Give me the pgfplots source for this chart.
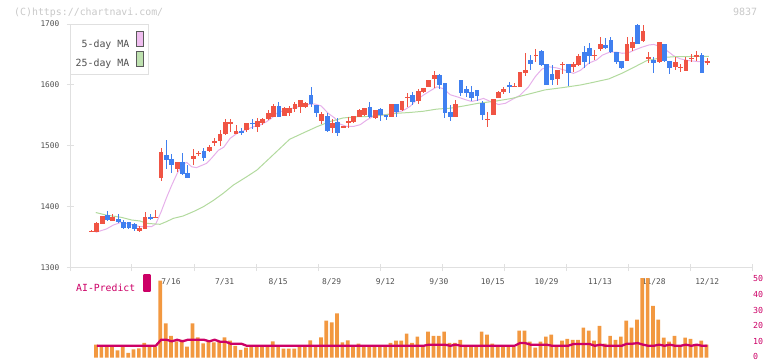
\documentclass[border=0pt]{standalone}
\usepackage{pgfplots}
\pgfplotsset{compat=1.18}
\usepackage{pgfplotstable}
\usepackage{fontspec}
\setmonofont{DejaVu Sans Mono}
\definecolor{cRed}{RGB}{240,84,68}
\definecolor{cBlue}{RGB}{64,128,240}
\definecolor{maPink}{RGB}{230,176,234}
\definecolor{maPinkFill}{RGB}{240,190,240}
\definecolor{maGreen}{RGB}{178,218,158}
\definecolor{maGreenFill}{RGB}{190,225,175}
\definecolor{volOrange}{RGB}{242,152,64}
\definecolor{aiMag}{RGB}{204,0,102}
\definecolor{axisGray}{RGB}{224,224,224}
\definecolor{textGray}{RGB}{80,80,80}
\definecolor{wmGray}{RGB}{200,200,200}
\definecolor{swBorder}{RGB}{90,90,90}

\pgfplotstableread{
i o h l c
0 1360 1361.5 1359.5 1361
1 1359.5 1374.8 1359 1373.2
2 1372.7 1386 1372 1385.2
3 1387.4 1393.4 1377.6 1378.7
4 1377.6 1388.5 1377 1383
5 1380.3 1388.5 1374.3 1376
6 1374.9 1378.7 1364.5 1366.1
7 1374.9 1376 1364.5 1366.1
8 1372.1 1373.2 1361.2 1363.9
9 1361.2 1368.8 1359.5 1365.6
10 1364.5 1391.8 1364 1383
11 1383 1388.5 1378.7 1380.8
12 1382.5 1395.1 1382.5 1383.2
13 1448.1 1496.1 1443.2 1490.1
14 1485.2 1509.8 1461.7 1477
15 1478.7 1486.9 1456.3 1469.4
16 1462.8 1474 1458 1473.7
17 1473.7 1488.5 1453 1454.1
18 1455.7 1468.8 1448 1448.1
19 1478.7 1495.1 1468.8 1483.6
20 1488 1492.3 1484.1 1488.6
21 1491.8 1496.1 1475.4 1480.3
22 1491.8 1502.2 1490.7 1498.3
23 1505.5 1513.7 1500.6 1508.2
24 1508.8 1526.2 1500.6 1519.7
25 1519.1 1543.7 1518 1538.8
26 1538 1543.7 1523.5 1538.8
27 1519.7 1534.4 1519.7 1524.6
28 1524 1529 1518 1523.2
29 1526.2 1537.7 1523.5 1537.7
30 1537.7 1543.7 1527.3 1536.6
31 1531.7 1545.4 1523.5 1541
32 1538.3 1545.4 1534.4 1544.3
33 1543.7 1559 1542.6 1554.6
34 1548.1 1568.9 1547 1565.6
35 1565.6 1572 1547 1548.1
36 1549.2 1564.5 1549.2 1561.8
37 1554.6 1565.6 1549.2 1561.8
38 1560.7 1572.7 1556.3 1568.9
39 1564.5 1575.4 1553.6 1575.4
40 1564.5 1572 1563 1571.1
41 1583.6 1597.3 1564.5 1569.5
42 1567.2 1567.2 1547 1553.6
43 1541.5 1556.3 1536.5 1552.5
44 1549.2 1553.6 1522.4 1525.1
45 1529 1545 1521 1538.3
46 1539.9 1545.4 1517 1520.8
47 1530 1532.6 1529 1532.6
48 1537.2 1547 1530 1541
49 1539.9 1549.2 1537.2 1549.2
50 1548.1 1560 1547 1559
51 1550.8 1563 1550 1562.9
52 1564.5 1571.6 1545.4 1547
53 1545.4 1559 1544.3 1559
54 1560.7 1562.9 1541.6 1550.8
55 1550.8 1550.8 1542.6 1547
56 1548.1 1569 1548 1568.9
57 1568.9 1568.9 1547 1555.2
58 1559 1574 1558 1573.8
59 1579.5 1587.5 1564.5 1580.3
60 1583.6 1589.1 1567.2 1572.7
61 1573.8 1592.9 1568.3 1590.2
62 1589.1 1595.7 1586.4 1595.7
63 1597.3 1608.2 1597 1608.2
64 1609.3 1623 1594.6 1616.4
65 1616.4 1618 1592.9 1600
66 1602.8 1602.8 1546.5 1553.6
67 1556.3 1567.2 1541 1548.1
68 1548.1 1575.4 1548 1568.9
69 1608.2 1608.2 1582.6 1587.5
70 1593.5 1598.4 1581 1587
71 1588 1598.4 1574.4 1578.2
72 1591.8 1591.8 1574.4 1582.3
73 1571.1 1574.4 1542.6 1550.9
74 1543.4 1556.3 1531.7 1544.2
75 1550.9 1577.1 1550.5 1577.1
76 1578.6 1590.7 1578.5 1589.1
77 1589.1 1596.5 1585 1593.5
78 1600 1605 1587.5 1597.6
79 1597.3 1603.9 1596 1598.4
80 1597.3 1621.5 1597 1620.8
81 1620.3 1652.5 1615.5 1624.6
82 1641 1649.2 1625 1634.5
83 1648.3 1658.7 1637.7 1649.2
84 1656 1657.4 1631.7 1632.8
85 1634.5 1634.5 1600 1600
86 1618.1 1633.5 1600 1608.2
87 1609.9 1624.6 1600 1624.6
88 1633.4 1638.3 1617.5 1633.9
89 1634.5 1634.5 1598.4 1619.2
90 1629 1638.3 1622 1634.5
91 1632.8 1650.3 1631.7 1647.5
92 1654.6 1664 1627.8 1638.3
93 1661.2 1668.8 1633.9 1648.1
94 1648.5 1657.4 1641 1649.2
95 1659.5 1678.7 1655.7 1667.2
96 1665.6 1676.5 1659.6 1661.2
97 1673.8 1678.7 1652.5 1653.6
98 1654.6 1654.6 1634.5 1638.3
99 1639.3 1639.3 1626.2 1627.3
100 1639.9 1678.7 1639 1667.2
101 1661.2 1678.7 1655.7 1670.5
102 1698.4 1700 1666.7 1667.8
103 1672.7 1698.4 1671 1688.5
104 1644.3 1654.6 1635.5 1644.9
105 1641 1646.5 1620.2 1636.6
106 1638.3 1670.5 1636.6 1670.5
107 1667.2 1667.2 1638.3 1639.9
108 1639.3 1639.3 1618.6 1628.4
109 1629 1646.5 1624.6 1637.7
110 1628.4 1634.5 1621.9 1629
111 1623.5 1646.5 1623.5 1641
112 1643.3 1650.8 1638.3 1643.8
113 1646.5 1655.7 1640 1649.2
114 1649.2 1651.9 1620.2 1620.2
115 1638.2 1643.7 1632.8 1638.6
}\candles

\pgfplotstableread{
i v
1 8.2
2 6.7
3 6.7
4 6.7
5 4.6
6 6.7
7 3.1
8 5.2
9 5.9
10 9.4
11 6.7
12 6.7
13 48.6
14 21.6
15 13.8
16 10.3
17 11.3
18 6.9
19 21.6
20 12.8
21 9.0
22 10.7
23 9.6
24 10.1
25 12.8
26 10.7
27 7.5
28 5.0
29 6.3
30 6.7
31 6.7
32 6.7
33 6.7
34 10.3
35 6.7
36 5.7
37 5.7
38 5.7
39 6.7
40 6.7
41 10.9
42 6.7
43 12.8
44 23.3
45 22.2
46 27.9
47 9.6
48 10.9
49 6.7
50 8.8
51 6.7
52 6.7
53 6.7
54 6.7
55 7.5
56 9.4
57 10.7
58 10.7
59 15.1
60 9.4
61 13.2
62 7.5
63 16.4
64 13.8
65 13.8
66 16.4
67 9.4
68 9.4
69 11.3
70 6.7
71 6.7
72 6.7
73 16.4
74 14.5
75 8.8
76 6.7
77 6.7
78 6.7
79 6.7
80 17.0
81 17.0
82 10.1
83 6.3
84 10.1
85 13.2
86 14.5
87 6.7
88 10.7
89 11.9
90 11.3
91 11.3
92 18.9
93 17.0
94 10.7
95 20.1
96 8.8
97 13.8
98 11.3
99 13.2
100 23.3
101 18.9
102 23.9
103 60
104 60
105 32.7
106 23.9
107 12.6
108 10.1
109 13.8
110 7.5
111 12.6
112 11.9
113 7.5
114 10.7
115 8.2
}\vol

\begin{document}
\begin{tikzpicture}
\useasboundingbox (0,0) rectangle (772pt,361pt);
\node[anchor=west, text=wmGray, font=\fontsize{9.9}{10}\ttfamily, inner sep=0pt] at (14pt,348.5pt) {(C)https://chartnavi.com/};
\node[anchor=east, text=wmGray, font=\fontsize{10}{10}\ttfamily, inner sep=0pt] at (757.3pt,349pt) {9837};

\begin{axis}[
  at={(70pt,93pt)}, anchor=south west, scale only axis,
  width=682pt, height=244pt,
  xmin=-4.01, xmax=123.34, ymin=1300, ymax=1700,
  axis x line*=bottom, axis y line*=left,
  axis line style={draw=axisGray, line width=1pt, -},
  tick style={draw=axisGray, line width=1pt},
  tick align=center, major tick length=7pt,
  xtick={-4.01,7.567,19.145,30.722,42.299,53.877,65.454,77.031,88.608,100.186,111.763,123.34},
  xticklabels={},
  ytick={1300,1400,1500,1600,1700},
  yticklabels={1300,1400,1500,1600,1700},
  yticklabel style={font=\fontsize{7.8}{8}\ttfamily, text=textGray, anchor=east, inner sep=0pt, xshift=-7pt},
  extra x ticks={14.85,24.85,34.85,44.85,54.9,64.85,74.95,84.95,94.95,105,115},
  extra x tick labels={7/16,7/31,8/15,8/29,9/12,9/30,10/15,10/29,11/13,11/28,12/12},
  extra x tick style={major tick length=0pt, tick style={draw=none},
     xticklabel style={anchor=center, inner sep=0pt, yshift=-14.3pt, font=\fontsize{7.9}{8}\ttfamily, text=textGray}},
  legend style={at={(0,1)}, anchor=north west, draw=axisGray, line width=1pt, fill=white,
     inner xsep=5.2pt, inner ysep=6.5pt, row sep=1.7pt, column sep=6.7pt,
     font=\fontsize{9.9}{10}\ttfamily, text=textGray, cells={anchor=east}, nodes={inner sep=0pt}},
  legend plot pos=right,
]
\addplot[color=maPink, line width=1pt, mark=none,
  legend image code/.code={\draw[draw=swBorder, fill=maPinkFill, line width=0.8pt] (0pt,-2.4pt) rectangle (6.7pt,12.9pt);}]
  coordinates {(0.8,1358.5) (2.8,1364) (4.1,1370.5) (5.6,1375) (7.2,1371.6) (9.1,1367.7) (11.2,1367.7) (12,1372) (13,1392) (14,1415) (15,1436) (16,1455) (17,1470) (17.8,1473) (18.7,1466) (19.6,1464.5) (21.5,1471.6) (22.4,1479.8) (23.7,1493) (24.7,1498) (25.9,1512.6) (27.2,1520.8) (28.7,1526.2) (30.3,1531.7) (31.5,1534.4) (32.7,1539.9) (33.6,1545.4) (34.6,1553.6) (36.1,1559) (38,1562.9) (39.8,1567.2) (41.7,1568.9) (42.9,1565.6) (44.2,1553.6) (45.4,1546) (46.4,1536) (47.7,1532) (48.9,1532) (50.2,1535) (51.4,1542.6) (52.7,1549) (54.5,1551) (56.4,1553.6) (58.2,1558) (59.5,1565) (60.7,1575.4) (62,1583.6) (63.5,1591.8) (64.5,1597) (65.7,1594) (67,1584) (68.5,1580) (69.8,1576) (71,1573) (72.2,1575.4) (73.2,1578) (74.5,1573) (76,1568) (77.3,1570) (78.5,1576) (80,1583) (81.6,1597) (82.9,1614) (84.1,1626) (85.3,1630) (86.9,1628) (88.5,1624) (90,1619) (91.3,1624) (92.9,1636) (94.3,1641) (95.4,1649) (96.8,1654) (98,1654) (99.1,1652) (100.3,1653) (101.6,1658) (102.8,1662) (104.1,1665.6) (105,1666.5) (106.3,1662.8) (107.5,1656) (108.7,1648) (109.9,1643) (111.5,1640) (113.4,1638.3) (115,1638.5)};
\addlegendentry{5-day MA}
\addplot[color=maGreen, line width=1pt, mark=none,
  legend image code/.code={\draw[draw=swBorder, fill=maGreenFill, line width=0.8pt] (0pt,-2.4pt) rectangle (6.7pt,12.9pt);}]
  coordinates {(0.8,1391) (2.6,1387) (5.6,1383) (7.5,1378.7) (9.1,1377) (10.3,1373.2) (12.8,1371.6) (14,1376) (15.3,1381.4) (17.1,1385.2) (19,1392.3) (20.9,1400.5) (22.7,1410.4) (24.6,1422.4) (26.5,1436) (29,1449.7) (30.9,1460.6) (33.5,1482) (37,1511) (39.7,1522) (42.2,1532) (44.5,1540) (47,1546) (49.6,1548) (52.1,1548.5) (54.5,1550.8) (57,1553.6) (59.5,1555) (62,1557) (64.5,1560.5) (67,1562) (69.5,1565.6) (72.2,1570) (75.4,1573.5) (78.5,1578) (81.6,1585) (84.7,1592) (87.8,1595.5) (91.3,1600) (93.5,1604) (96.6,1610) (99,1619) (101.5,1630) (103.7,1640) (106.6,1645) (109,1646.5) (115.3,1647)};
\addlegendentry{25-day MA}

% red (up) candles
\addplot[draw=none, mark=none, forget plot,
  restrict expr to domain={\thisrow{c}-\thisrow{o}}{0:1000},
  error bars/.cd, y dir=both, y explicit, error mark=none,
  error bar style={draw=cRed, line width=1pt}]
  table[x=i, y expr={(\thisrow{h}+\thisrow{l})/2}, y error expr={(\thisrow{h}-\thisrow{l})/2}] {\candles};
\addplot[draw=none, mark=none, forget plot,
  restrict expr to domain={\thisrow{c}-\thisrow{o}}{0:1000},
  error bars/.cd, y dir=both, y explicit, error mark=none,
  error bar style={draw=cRed, line width=4.8pt}]
  table[x=i, y expr={(\thisrow{o}+\thisrow{c})/2}, y error expr={max(abs(\thisrow{c}-\thisrow{o})/2,0.8)}] {\candles};
% blue (down) candles
\addplot[draw=none, mark=none, forget plot,
  restrict expr to domain={\thisrow{c}-\thisrow{o}}{-1000:-0.001},
  error bars/.cd, y dir=both, y explicit, error mark=none,
  error bar style={draw=cBlue, line width=1pt}]
  table[x=i, y expr={(\thisrow{h}+\thisrow{l})/2}, y error expr={(\thisrow{h}-\thisrow{l})/2}] {\candles};
\addplot[draw=none, mark=none, forget plot,
  restrict expr to domain={\thisrow{c}-\thisrow{o}}{-1000:-0.001},
  error bars/.cd, y dir=both, y explicit, error mark=none,
  error bar style={draw=cBlue, line width=4.8pt}]
  table[x=i, y expr={(\thisrow{o}+\thisrow{c})/2}, y error expr={max(abs(\thisrow{c}-\thisrow{o})/2,0.8)}] {\candles};
\end{axis}

\begin{axis}[
  at={(70pt,3.3pt)}, anchor=south west, scale only axis,
  width=682pt, height=79.4pt,
  xmin=-4.01, xmax=123.34, ymin=0, ymax=50,
  hide x axis, axis y line*=right,
  y axis line style={draw=none}, ytick style={draw=none}, major tick length=0pt,
  ytick={0,10,20,30,40,50}, yticklabels={\raisebox{1.6pt}{0},10,20,30,40,50},
  yticklabel style={font=\fontsize{8.3}{8.3}\ttfamily, text=aiMag, anchor=west, inner sep=0pt, xshift=1pt},
  legend style={at={(0.0088,0.8186)}, anchor=south west, draw=none, fill=none,
     inner sep=0pt, column sep=7.3pt, font=\fontsize{9.8}{10}\ttfamily, text=aiMag, nodes={inner sep=0pt}},
  legend plot pos=right,
]
\addplot[ybar, bar width=3.7pt, bar shift=-0.8pt, fill=volOrange, draw=none, forget plot]
  table[x=i, y=v] {\vol};
\addplot[color=aiMag, line width=2.3pt, line join=round, mark=none,
  legend image code/.code={\fill[aiMag] (0pt,-2.9pt) rectangle (6.4pt,12.5pt);}]
  coordinates {(1,7.5) (12,7.5) (13,11.3) (14,11.3) (15,10.3) (16,11.3) (17,10.3) (18,11.3) (21,11.3) (22,10.3) (23,11.3) (24,10.1) (25,10.1) (26,8.8) (28,8.8) (29,7.5) (62,7.5) (63,8.2) (66,8.2) (67,7.5) (68,8.2) (69,7.5) (79,7.5) (80,9.2) (81,9.2) (82,8.2) (85,8.2) (86,7.5) (89,7.5) (90,8.6) (93,8.6) (94,7.5) (95,8.2) (96,7.5) (99,7.5) (100,8.8) (101,8.8) (102,9.2) (103,8.2) (104,7.5) (105,7.5) (106,8.2) (107,7.5) (108,8.2) (109,7.5) (110,7.5) (111,8.2) (112,7.5) (113,8.2) (114,7.5) (115,7.5)};
\addlegendentry{AI-Predict}
\end{axis}
\end{tikzpicture}
\end{document}
